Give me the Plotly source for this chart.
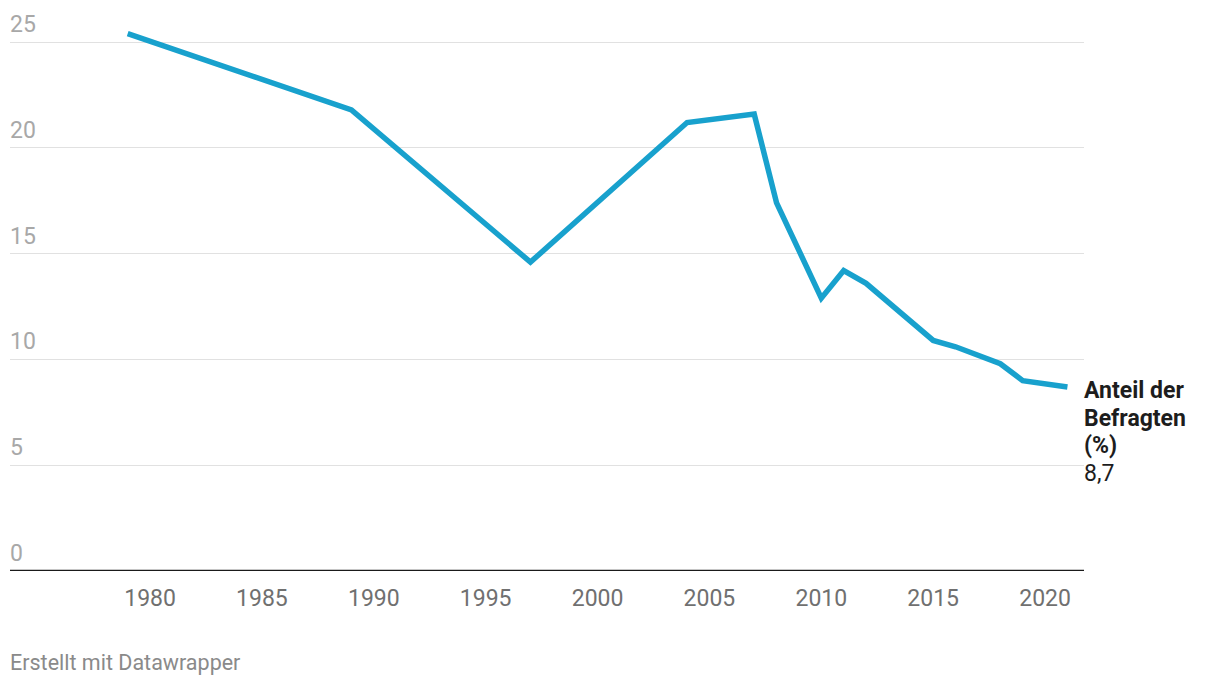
import plotly.graph_objects as go

years = [1979, 1989, 1997, 2004, 2007, 2008, 2010, 2011, 2012, 2015, 2016, 2018, 2019, 2021]
values = [25.4, 21.8, 14.6, 21.2, 21.6, 17.4, 12.9, 14.2, 13.6, 10.9, 10.6, 9.8, 9.0, 8.7]
x_ticks = [1980, 1985, 1990, 1995, 2000, 2005, 2010, 2015, 2020]
y_ticks = [0, 5, 10, 15, 20, 25]
series_lines = ["Anteil der", "Befragten", "(%)"]
last_label = "8,7"
footer = "Erstellt mit Datawrapper"

fig = go.Figure()
fig.add_trace(go.Scatter(
    x=years, y=values, mode="lines",
    line=dict(color="#18a1cd", width=5.5),
    hoverinfo="skip", showlegend=False, cliponaxis=False,
))

annotations = []
for t in y_ticks:
    annotations.append(dict(
        x=0, xref="paper", y=t, yref="y", text=str(t),
        xanchor="left", yanchor="bottom", yshift=2, xshift=-2, showarrow=False,
        font=dict(family="Roboto", size=23, color="#a8a8a8"),
    ))
label_texts = ["<b>" + s + "</b>" for s in series_lines] + [last_label]
for i, txt in enumerate(label_texts):
    annotations.append(dict(
        x=years[-1], xref="x", y=values[-1], yref="y",
        text=txt, xanchor="left", yanchor="middle", align="left",
        xshift=15, yshift=-4 - 27.5 * i,
        showarrow=False, font=dict(family="Roboto", size=23, color="#1d1d1d"),
    ))
annotations.append(dict(
    x=0, xref="paper", y=-0.1655, yref="paper", text=footer,
    xanchor="left", yanchor="middle", xshift=-2, showarrow=False,
    font=dict(family="Roboto", size=21.5, color="#8a8a8a"),
))

fig.update_layout(
    width=1220, height=688,
    margin=dict(l=2, r=144, t=13, b=125),
    paper_bgcolor="white", plot_bgcolor="white",
    xaxis=dict(
        range=[1973.74, 2021.74], tickvals=x_ticks, ticktext=[str(v) for v in x_ticks],
        showgrid=False, zeroline=False, showline=False, ticks="",
        tickfont=dict(family="Roboto", size=23, color="#707070"),
        ticklabelstandoff=11, fixedrange=True,
    ),
    yaxis=dict(
        range=[0, 26], tickvals=y_ticks, showticklabels=False,
        showgrid=True, gridcolor="#e1e1e1", gridwidth=1.3,
        zeroline=False, showline=False, ticks="", fixedrange=True,
    ),
    annotations=annotations,
    shapes=[dict(type="line", xref="paper", yref="y", x0=0, x1=1, y0=0, y1=0,
                 line=dict(color="#1a1a1a", width=2.5))],
)

fig.write_html("out.html")
